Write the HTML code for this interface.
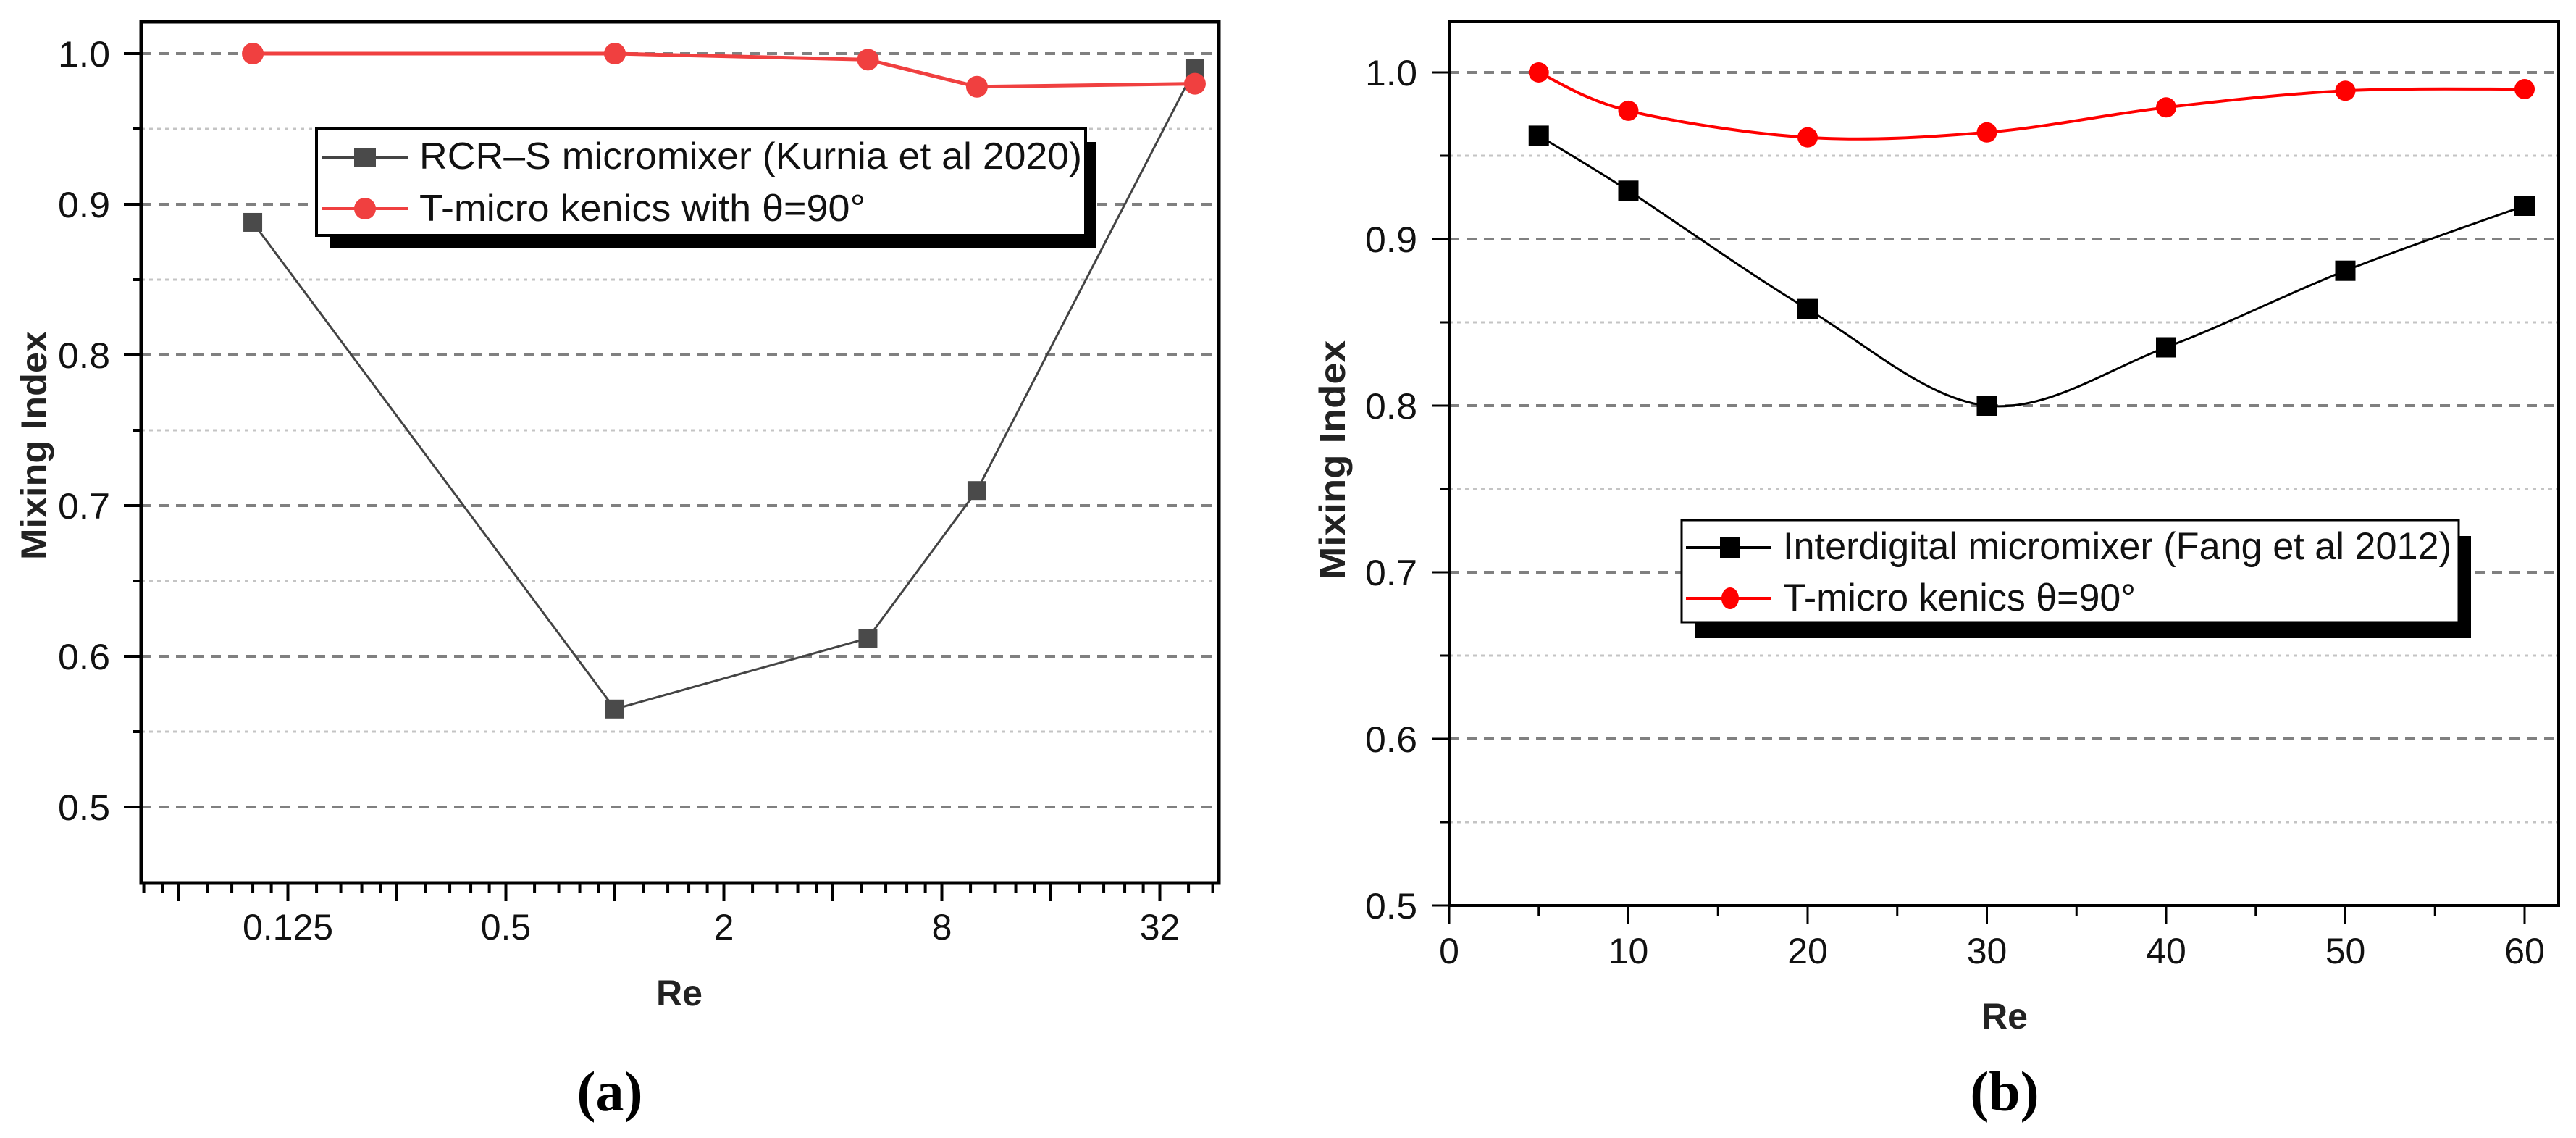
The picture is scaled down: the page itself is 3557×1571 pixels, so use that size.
<!DOCTYPE html>
<html><head><meta charset="utf-8"><style>
html,body{margin:0;padding:0;background:#fff;}
svg{display:block;}
text{font-family:"Liberation Sans",Arial,sans-serif;}
</style></head><body>
<svg id="fig" width="3557" height="1571" viewBox="0 0 3557 1571" xmlns="http://www.w3.org/2000/svg">
<g id="panelA"></g>
<g id="panelB"></g>
</svg>
<script>
// Panel (a) data
const reA = [0.1, 1, 5, 10, 40];
const rcrValues = [0.888, 0.565, 0.612, 0.710, 0.990];
const kenicsA = [1.0, 1.0, 0.996, 0.978, 0.980];
const xTickLabelsA = ["0.125", "0.5", "2", "8", "32"];
const xTickValuesA = [0.125, 0.5, 2, 8, 32];
// Panel (b) data
const reB = [5, 10, 20, 30, 40, 50, 60];
const interdigital = [0.962, 0.929, 0.858, 0.800, 0.835, 0.881, 0.920];
const kenicsB = [1.0, 0.977, 0.961, 0.964, 0.979, 0.989, 0.990];
const xTickLabelsB = ["0", "10", "20", "30", "40", "50", "60"];
const yTickLabels = ["0.5", "0.6", "0.7", "0.8", "0.9", "1.0"];

const NS = "http://www.w3.org/2000/svg";
function mk(parent, tag, attrs, txt) {
  const el = document.createElementNS(NS, tag);
  for (const k in attrs) el.setAttribute(k, attrs[k]);
  if (txt !== undefined) el.textContent = txt;
  parent.appendChild(el);
  return el;
}
function named(el, nm, inter) {
  
  
  return el;
}

// ---------- Panel A ----------
(function(){
  const g = document.getElementById('panelA');
  const L = 195, R = 1683, T = 30, B = 1219;
  const xA = v => 849 + 150.5 * Math.log2(v);
  const yA = v => 74 + (1.0 - v) * 2080;
  for (let i = 0; i <= 11; i++) {
    const v = 0.5 + i * 0.05;
    if (v > 1.001) break;
    const major = i % 2 === 0;
    const el = mk(g, 'line', {x1: L, x2: R, y1: yA(v), y2: yA(v), stroke: major ? '#808080' : '#c4c4c4', 'stroke-width': major ? 4 : 3, 'stroke-dasharray': major ? '14 10' : '5 6'});
    named(el, major ? 'gridline-major' : 'gridline-minor', false);
    const t = mk(g, 'line', {x1: major ? 171 : 183, x2: L, y1: yA(v), y2: yA(v), stroke: '#000', 'stroke-width': 4});
    named(t, 'y-tick', false);
  }
  const yl = [0.5,0.6,0.7,0.8,0.9,1.0];
  yl.forEach((v, i) => {
    const t = mk(g, 'text', {x: 152, y: yA(v) + 18, 'text-anchor': 'end', 'font-size': 50, fill: '#111', 'textLength': 72, 'lengthAdjust': 'spacingAndGlyphs'}, yTickLabels[i]);
    named(t, 'y-tick-label', false);
  });
  for (let k = -5; k <= 5; k++) {
    const base = Math.pow(2, k);
    const xm = xA(base);
    if (xm >= L && xm <= R) {
      const t = mk(g, 'line', {x1: xm, x2: xm, y1: B, y2: B + 25, stroke: '#000', 'stroke-width': 4});
      named(t, 'x-tick-major', false);
    }
    for (let s = 1; s <= 4; s++) {
      const xv = xA(base * (1 + s / 5));
      if (xv < L || xv > R) continue;
      const t = mk(g, 'line', {x1: xv, x2: xv, y1: B, y2: B + 14, stroke: '#000', 'stroke-width': 4});
      named(t, 'x-tick-minor', false);
    }
  }
  xTickValuesA.forEach((v, i) => {
    const t = mk(g, 'text', {x: xA(v), y: 1297, 'text-anchor': 'middle', 'font-size': 50, fill: '#111'}, xTickLabelsA[i]);
    named(t, 'x-tick-label', false);
  });
  named(mk(g, 'rect', {x: L, y: T, width: R - L, height: B - T, fill: 'none', stroke: '#000', 'stroke-width': 5}), 'plot-frame', false);
  const ptsB = reA.map((r, i) => [xA(r), yA(rcrValues[i])]);
  named(mk(g, 'polyline', {points: ptsB.map(p => p.join(',')).join(' '), fill: 'none', stroke: '#444', 'stroke-width': 3}), 'rcr-line', false);
  const ptsR = reA.map((r, i) => [xA(r), yA(kenicsA[i])]);
  named(mk(g, 'polyline', {points: ptsR.map(p => p.join(',')).join(' '), fill: 'none', stroke: '#f04040', 'stroke-width': 5}), 'kenics-line', false);
  ptsB.forEach(p => {
    const m = mk(g, 'rect', {x: p[0] - 13, y: p[1] - 13, width: 26, height: 26, fill: '#4a4a4a'});
    
    
  });
  ptsR.forEach(p => {
    const m = mk(g, 'circle', {cx: p[0], cy: p[1], r: 15, fill: '#f04040'});
    
    
  });
  const lg = named(mk(g, 'g', {}), 'legend', false);
  mk(lg, 'rect', {x: 455, y: 196, width: 1059, height: 146, fill: '#000'});
  mk(lg, 'rect', {x: 437, y: 178, width: 1062, height: 147, fill: '#fff', stroke: '#000', 'stroke-width': 4});
  named(mk(lg, 'line', {x1: 444, x2: 563, y1: 217, y2: 217, stroke: '#444', 'stroke-width': 4}), 'legend-rcr-line', false);
  named(mk(lg, 'rect', {x: 489, y: 204, width: 30, height: 26, fill: '#4a4a4a'}), 'legend-rcr-marker', false);
  named(mk(lg, 'text', {x: 579, y: 233, 'font-size': 52, fill: '#111', textLength: 915, lengthAdjust: 'spacingAndGlyphs'}, 'RCR\u2013S micromixer (Kurnia et al 2020)'), 'legend-rcr-label', false);
  named(mk(lg, 'line', {x1: 444, x2: 563, y1: 288, y2: 288, stroke: '#f04040', 'stroke-width': 4}), 'legend-kenics-line', false);
  named(mk(lg, 'circle', {cx: 504, cy: 288, r: 15, fill: '#f04040'}), 'legend-kenics-marker', false);
  named(mk(lg, 'text', {x: 579, y: 305, 'font-size': 52, fill: '#111', textLength: 616, lengthAdjust: 'spacingAndGlyphs'}, 'T-micro kenics with \u03b8=90\u00b0'), 'legend-kenics-label', false);
  named(mk(g, 'text', {x: 938, y: 1388, 'text-anchor': 'middle', 'font-size': 50, 'font-weight': 'bold', fill: '#222'}, 'Re'), 'x-axis-title', false);
  named(mk(g, 'text', {x: 0, y: 0, transform: 'translate(64,615) rotate(-90)', 'text-anchor': 'middle', 'font-size': 50, 'font-weight': 'bold', fill: '#222', textLength: 316, lengthAdjust: 'spacingAndGlyphs'}, 'Mixing Index'), 'y-axis-title', false);
  named(mk(g, 'text', {x: 842, y: 1533, 'text-anchor': 'middle', 'font-size': 78, 'font-weight': 'bold', fill: '#000', style: 'font-family:"Liberation Serif",serif'}, '(a)'), 'panel-label-a', false);
})();

// ---------- Panel B ----------
(function(){
  const g = document.getElementById('panelB');
  const L = 2001, R = 3533, T = 30, B = 1250;
  const xB = v => 2001 + v * 24.75;
  const yB = v => 100 + (1.0 - v) * 2300;
  for (let i = 0; i <= 10; i++) {
    const v = 0.5 + i * 0.05;
    const major = i % 2 === 0;
    if (i > 0) {
      const el = mk(g, 'line', {x1: L, x2: R, y1: yB(v), y2: yB(v), stroke: major ? '#808080' : '#c4c4c4', 'stroke-width': major ? 4 : 3, 'stroke-dasharray': major ? '14 10' : '5 6'});
      named(el, major ? 'gridline-major' : 'gridline-minor', false);
    }
    named(mk(g, 'line', {x1: major ? 1978 : 1988, x2: L, y1: yB(v), y2: yB(v), stroke: '#000', 'stroke-width': 3}), 'y-tick', false);
  }
  [0.5,0.6,0.7,0.8,0.9,1.0].forEach((v, i) => {
    named(mk(g, 'text', {x: 1957, y: yB(v) + 18, 'text-anchor': 'end', 'font-size': 50, fill: '#111', textLength: 72, lengthAdjust: 'spacingAndGlyphs'}, yTickLabels[i]), 'y-tick-label', false);
  });
  for (let v = 0; v <= 60; v += 5) {
    const major = v % 10 === 0;
    named(mk(g, 'line', {x1: xB(v), x2: xB(v), y1: B, y2: B + (major ? 25 : 14), stroke: '#000', 'stroke-width': 3}), major ? 'x-tick-major' : 'x-tick-minor', false);
  }
  xTickLabelsB.forEach((lab, i) => {
    named(mk(g, 'text', {x: xB(i * 10), y: 1330, 'text-anchor': 'middle', 'font-size': 50, fill: '#111'}, lab), 'x-tick-label', false);
  });
  named(mk(g, 'rect', {x: L, y: T, width: R - L, height: B - T, fill: 'none', stroke: '#000', 'stroke-width': 4}), 'plot-frame', false);
  function spline(pts) {
    let d = 'M' + pts[0][0] + ',' + pts[0][1];
    for (let i = 0; i < pts.length - 1; i++) {
      const p0 = pts[i - 1] || pts[i], p1 = pts[i], p2 = pts[i + 1], p3 = pts[i + 2] || p2;
      const c1 = [p1[0] + (p2[0] - p0[0]) / 6, p1[1] + (p2[1] - p0[1]) / 6];
      const c2 = [p2[0] - (p3[0] - p1[0]) / 6, p2[1] - (p3[1] - p1[1]) / 6];
      d += ' C' + c1.join(',') + ' ' + c2.join(',') + ' ' + p2.join(',');
    }
    return d;
  }
  const pb = reB.map((r, i) => [xB(r), yB(interdigital[i])]);
  const pr = reB.map((r, i) => [xB(r), yB(kenicsB[i])]);
  named(mk(g, 'path', {d: spline(pb), fill: 'none', stroke: '#000', 'stroke-width': 3}), 'interdigital-line', false);
  named(mk(g, 'path', {d: spline(pr), fill: 'none', stroke: '#ff0000', 'stroke-width': 4}), 'kenics-line', false);
  pb.forEach(p => {
    const m = mk(g, 'rect', {x: p[0] - 14, y: p[1] - 14, width: 28, height: 28, fill: '#000'});
    
    
  });
  pr.forEach(p => {
    const m = mk(g, 'circle', {cx: p[0], cy: p[1], r: 14, fill: '#ff0000'});
    
    
  });
  const lg = named(mk(g, 'g', {}), 'legend', false);
  mk(lg, 'rect', {x: 2340, y: 740, width: 1072, height: 141, fill: '#000'});
  mk(lg, 'rect', {x: 2322, y: 718, width: 1073, height: 141, fill: '#fff', stroke: '#000', 'stroke-width': 3});
  named(mk(lg, 'line', {x1: 2328, x2: 2445, y1: 756, y2: 756, stroke: '#000', 'stroke-width': 4}), 'legend-interdigital-line', false);
  named(mk(lg, 'rect', {x: 2375, y: 741, width: 28, height: 30, fill: '#000'}), 'legend-interdigital-marker', false);
  named(mk(lg, 'text', {x: 2462, y: 772, 'font-size': 53, fill: '#111', textLength: 923, lengthAdjust: 'spacingAndGlyphs'}, 'Interdigital micromixer (Fang et al 2012)'), 'legend-interdigital-label', false);
  named(mk(lg, 'line', {x1: 2328, x2: 2445, y1: 826, y2: 826, stroke: '#ff0000', 'stroke-width': 4}), 'legend-kenics-line', false);
  named(mk(lg, 'ellipse', {cx: 2389, cy: 826, rx: 12, ry: 15, fill: '#ff0000'}), 'legend-kenics-marker', false);
  named(mk(lg, 'text', {x: 2462, y: 843, 'font-size': 53, fill: '#111', textLength: 487, lengthAdjust: 'spacingAndGlyphs'}, 'T-micro kenics \u03b8=90\u00b0'), 'legend-kenics-label', false);
  named(mk(g, 'text', {x: 2768, y: 1420, 'text-anchor': 'middle', 'font-size': 50, 'font-weight': 'bold', fill: '#222'}, 'Re'), 'x-axis-title', false);
  named(mk(g, 'text', {x: 0, y: 0, transform: 'translate(1857,635) rotate(-90)', 'text-anchor': 'middle', 'font-size': 50, 'font-weight': 'bold', fill: '#222', textLength: 330, lengthAdjust: 'spacingAndGlyphs'}, 'Mixing Index'), 'y-axis-title', false);
  named(mk(g, 'text', {x: 2768, y: 1533, 'text-anchor': 'middle', 'font-size': 78, 'font-weight': 'bold', fill: '#000', style: 'font-family:"Liberation Serif",serif'}, '(b)'), 'panel-label-b', false);
})();
</script>
</body></html>
